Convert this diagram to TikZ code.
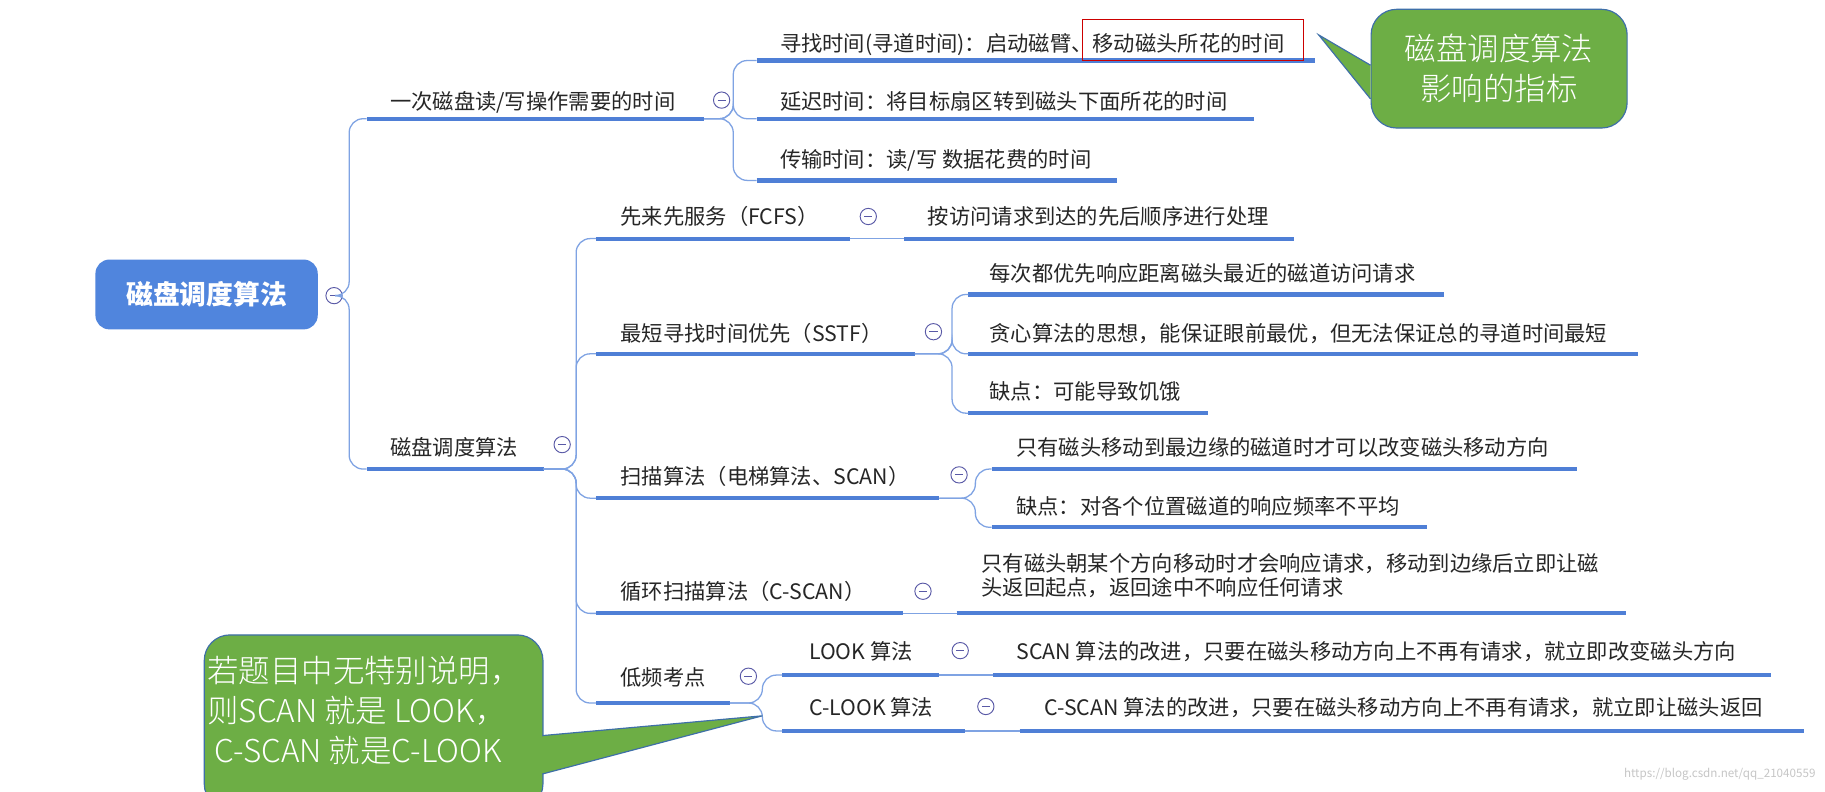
\documentclass[tikz,border=0pt]{standalone}
\usepackage{fontspec}
\setmainfont{Noto Sans CJK SC}
\newfontfamily\cjk{Noto Sans CJK SC}
\newfontfamily\cjkl{Noto Sans CJK SC Light}
\definecolor{ulc}{HTML}{4F7FD6}
\definecolor{lnc}{HTML}{7FA3E3}
\definecolor{rootc}{HTML}{5085DD}
\definecolor{grn}{HTML}{6DAE45}
\definecolor{grnb}{HTML}{3E6FA8}
\tikzset{
 ul/.style={line width=3.6pt, draw=ulc},
 br/.style={line width=1.1pt, draw=lnc, rounded corners=12pt},
 tx/.style={anchor=base west, inner sep=0, font=\fontsize{18.3}{21}\selectfont, text=black!85},
 mn/.style={circle, draw=gray!70!blue, line width=0.8pt, minimum size=14pt, inner sep=0, fill=white},
 callout/.style={draw=grnb, line width=1pt, fill=grn, rounded corners=22pt},
}
\newcommand{\mnus}[2]{\node[mn] (#1) at (#2) {};\draw[gray!70!blue,line width=0.9pt] ([xshift=-3.5pt]#1.center) -- ([xshift=3.5pt]#1.center);}
\newcommand{\uline}[4]{\coordinate (#1s) at (#2,#4);\coordinate (#1e) at (#3,#4);\draw[ul] (#1s) -- (#1e);}
\begin{document}
\begin{tikzpicture}[x=1pt,y=-1pt]
\useasboundingbox (0,0) rectangle (1568,680);
\fill[white] (0,0) rectangle (1568,680);
% root
\node[fill=rootc, rounded corners=12pt, minimum width=191pt, minimum height=60pt, text=white, font=\fontsize{23}{26}\selectfont\bfseries] (root) at (177.5,253) {磁盘调度算法};
\mnus{m0}{287,254}
% level 1
\uline{a}{315}{605}{102}
\node[tx] (ta) at (335,94) {一次磁盘读/写操作需要的时间};
\mnus{ma}{620,86}
\uline{b}{315}{467}{403}
\node[tx] (tb) at (335,391) {磁盘调度算法};
\mnus{mb}{483,382}
\draw[br] (m0.east) -- (300,254) |- (as);
\draw[br] (m0.east) -- (300,254) |- (bs);
% branch a children
\uline{a1}{650}{1130}{52}
\node[tx] (ta1) at (670,44) {寻找时间(寻道时间)：启动磁臂、移动磁头所花的时间};
\uline{a2}{650}{1077}{102}
\node[tx] (ta2) at (670,94) {延迟时间：将目标扇区转到磁头下面所花的时间};
\uline{a3}{650}{960}{155}
\node[tx] (ta3) at (670,144) {传输时间：读/写 数据花费的时间};
\foreach \c in {a1s,a2s,a3s} \draw[br] (ae) -- (630,102) |- (\c);
\node[draw=red!80!black, line width=1.2pt, minimum width=190pt, minimum height=35pt, inner sep=0] (redbox) at (1025,34.5) {};
% callout top right
\node[callout, minimum width=220pt, minimum height=102pt, align=center, text=white, font=\cjkl\fontsize{27}{34}\selectfont] (c1) at (1288,59) {磁盘调度算法\\影响的指标};
\coordinate (c1tip) at (1133,30);
\filldraw[fill=grn, draw=grnb, line width=1pt] ([yshift=-26pt]c1.west) -- (c1tip) -- ([yshift=3pt]c1.west);
\fill[grn] ([shift={(1.2pt,-27pt)}]c1.west) rectangle ([shift={(4pt,4pt)}]c1.west);
% branch b children
\uline{b1}{512}{730}{205}
\node[tx] (tb1) at (533,193) {先来先服务（FCFS）};
\mnus{mb1}{746,186}
\uline{b1c}{777}{1112}{205}
\node[tx] (tb1c) at (797,193) {按访问请求到达的先后顺序进行处理};
\draw[br] (b1e) -- (b1cs);
\uline{b2}{512}{786}{304}
\node[tx] (tb2) at (533,293) {最短寻找时间优先（SSTF）};
\mnus{mb2}{802,285}
\uline{b3}{512}{807}{428}
\node[tx] (tb3) at (533,416) {扫描算法（电梯算法、SCAN）};
\mnus{mb3}{824,408}
\uline{b4}{512}{776}{527}
\node[tx] (tb4) at (533,515) {循环扫描算法（C-SCAN）};
\mnus{mb4}{793,508}
\uline{b5}{512}{627}{604}
\node[tx] (tb5) at (533,589) {低频考点};
\mnus{mb5}{643,581}
\foreach \c in {b1s,b2s,b3s,b4s,b5s} \draw[br] (be) -- (495,403) |- (\c);
% b2 children
\uline{b21}{832}{1241}{253}
\node[tx] (tb21) at (850,242) {每次都优先响应距离磁头最近的磁道访问请求};
\uline{b22}{832}{1407}{304}
\node[tx] (tb22) at (850,293) {贪心算法的思想，能保证眼前最优，但无法保证总的寻道时间最短};
\uline{b23}{832}{1038}{355}
\node[tx] (tb23) at (850,343) {缺点：可能导致饥饿};
\foreach \c in {b21s,b22s,b23s} \draw[br] (b2e) -- (818,304) |- (\c);
% b3 children
\uline{b31}{852}{1355}{403}
\node[tx] (tb31) at (873,391) {只有磁头移动到最边缘的磁道时才可以改变磁头移动方向};
\uline{b32}{852}{1226}{453}
\node[tx] (tb32) at (873,442) {缺点：对各个位置磁道的响应频率不平均};
\foreach \c in {b31s,b32s} \draw[br] (b3e) -- (838,428) |- (\c);
% b4 child
\uline{b41}{822}{1397}{527}
\node[tx, align=left, anchor=north west] (tb41) at (843,475) {只有磁头朝某个方向移动时才会响应请求，移动到边缘后立即让磁\\头返回起点，返回途中不响应任何请求};
\draw[br] (b4e) -- (b41s);
% b5 children
\uline{b51}{672}{807}{580}
\node[tx] (tb51) at (695,567) {LOOK 算法};
\mnus{mb51}{825,559}
\uline{b51c}{853}{1522}{580}
\node[tx] (tb51c) at (873,567) {SCAN 算法的改进，只要在磁头移动方向上不再有请求，就立即改变磁头方向};
\draw[br] (b51e) -- (b51cs);
\uline{b52}{672}{829}{628}
\node[tx] (tb52) at (695,615) {C-LOOK 算法};
\mnus{mb52}{847,607}
\uline{b52c}{876}{1550}{628}
\node[tx] (tb52c) at (897,615) {C-SCAN 算法的改进，只要在磁头移动方向上不再有请求，就立即让磁头返回};
\draw[br] (b52e) -- (b52cs);
\foreach \c in {b51s,b52s} \draw[br] (b5e) -- (655,604) |- (\c);
% callout bottom left
\node[callout, minimum width=291pt, minimum height=150pt, anchor=north west] (c2) at (175,545) {};
\node[anchor=north west, inner sep=0, align=left, text=white, font=\cjkl\fontsize{27}{34}\selectfont] (c2t) at (178,564) {若题目中无特别说明，\\则SCAN 就是 LOOK，\\\ C-SCAN 就是C-LOOK};
\coordinate (c2tip) at (655,615);
\filldraw[fill=grn, draw=grnb, line width=1pt] (466,632) -- (c2tip) -- (466,665);
\fill[grn] (463,633) rectangle (467.5,664);
\node[anchor=base east, text=gray!45, font=\fontsize{10}{12}\selectfont, inner sep=0] (wm) at (1560,668) {https://blog.csdn.net/qq\_21040559};
\end{tikzpicture}
\end{document}
